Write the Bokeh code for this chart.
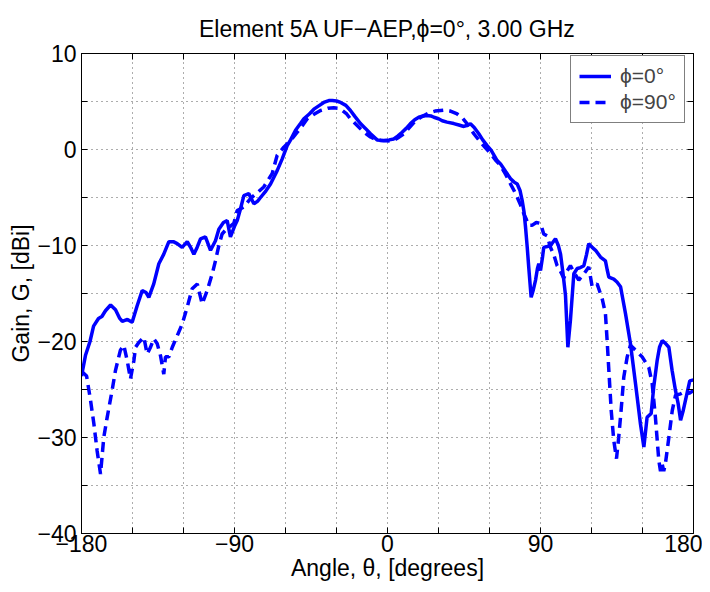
from bokeh.plotting import figure
from bokeh.models import FixedTicker, LinearAxis, Legend, LegendItem, Range1d
from bokeh.embed import file_html
from bokeh.resources import INLINE

FONT = "Liberation Sans"

theta_phi0 = [-180, -177.6, -175, -172.9, -170, -168, -165.9, -162.9, -160, -157.5, -156, -153, -150.2,
              -147.3, -144.3, -142, -140.4, -137.5, -134.5, -131.6, -128.6, -126, -123.7, -120.8, -117.8,
              -115.5, -113.9, -112, -110, -107.1, -104.1, -101.2, -99.2, -96.5, -94.3, -92.4, -90, -88.4,
              -86.5, -84.5, -81.6, -78.6, -76.5, -74.7, -71.5, -68.8, -64.9, -62, -59, -57, -54.1, -51.2,
              -49.2, -46, -43.3, -40, -37.5, -34.5, -32.5, -30, -27.6, -24.5, -21.8, -19, -15.9, -13, -10,
              -6.1, -2.2, 1, 3.7, 6, 8.6, 11, 13.5, 16, 18.4, 21, 23.3, 25.5, 27.3, 30, 32.2, 35, 39, 42,
              44.9, 46.5, 48.8, 51, 53.7, 56, 58.6, 61, 64.5, 66.5, 69.5, 72.4, 74.5, 76.3, 78, 79.2, 80.3,
              81.2, 82.2, 83.1, 84.5, 85.8, 87.1, 88.2, 89, 90, 91.2, 91.9, 94, 95.9, 98.8, 100.5, 101.8,
              103.3, 104.7, 106.1, 107.6, 109.6, 111.6, 113.5, 115.5, 117, 118.4, 120.4, 122.4, 125.3,
              128.2, 129.2, 130.2, 133.1, 135, 137.1, 140, 142.9, 145.9, 148.8, 150.8, 152.7, 155.1, 156.6,
              158.6, 160, 161.6, 163.5, 165.5, 167.4, 169.4, 171, 172.4, 173.8, 175.3, 177.8, 180]
gain_phi0 = [-23.6, -21.4, -20.0, -18.4, -17.6, -17.4, -16.8, -16.2, -16.7, -17.6, -17.9, -17.7, -18.0,
             -16.3, -14.7, -14.9, -15.4, -14.0, -11.9, -10.9, -9.6, -9.6, -9.8, -10.2, -9.6,
             -10.3, -10.9, -10.2, -9.3, -9.1, -10.5, -9.5, -8.3, -7.6, -7.4, -9.1, -8.0, -7.4,
             -6.2, -4.8, -4.6, -5.65, -5.4, -5.0, -4.3, -3.6, -2.2, -1.0, 0.4, 1.0, 2.0, 2.7,
             3.2, 3.7, 4.2, 4.6, 4.9, 5.1, 5.1, 5.05, 4.9, 4.6, 4.06, 3.4, 2.7, 2.2, 1.64,
             1.0, 0.94, 1.0, 1.1, 1.4, 1.8, 2.2, 2.7, 3.1, 3.36, 3.5, 3.55, 3.5, 3.36, 3.2, 3.0, 2.85, 2.7, 2.55,
             2.4, 2.5, 2.68, 2.3, 1.64, 1.0, 0.4, -0.1, -1.15, -1.5, -2.3, -3.05, -3.4, -3.6, -4.3, -5.3, -6.5,
             -8.1, -10.2, -12.3, -15.4, -14.6, -13.6, -12.4, -11.9, -12.6, -11.2, -10.2, -10.1, -10.0, -9.3, -10.0, -10.9,
             -13.0, -15.2, -20.6, -17.8, -12.95, -12.4, -12.3, -12.1, -11.0, -9.8, -10.2, -10.5, -11.2,
             -11.6, -12.5, -13.3, -13.5, -13.8, -14.3, -17.1, -20.2, -24.4, -28.6, -31.0, -27.9, -27.5, -24.75,
             -22.0, -20.6, -19.9, -20.2, -20.6, -23.0, -25.1, -26.5, -28.2, -27.3, -26.1, -24.1, -24.0]

theta_phi90 = [-180, -177, -174.7, -172.7, -170.8, -168.8, -166.9, -164.9, -162, -160, -157.1, -155.1, -153.1,
               -151.2, -149.2, -148.2, -146.3, -143.3, -141.4, -139.4, -137.5, -135.5, -133.5, -131.6, -130.6,
               -128.6, -126.6, -123.7, -120.8, -117.8, -114.9, -111.9, -109, -106.1, -103.1, -101.2, -99.2,
               -97.3, -95.3, -92.5, -90.4, -88.4, -84.5, -80.6, -76.5, -72.8, -67.8, -64.9, -61, -57, -53.1,
               -50, -47.2, -43, -39.4, -35, -31.6, -29, -26.6, -24, -21.8, -19, -15.9, -13, -10, -7, -4.1,
               -1, 2.7, 6, 9.6, 13, 16.5, 20, 24.3, 28, 33.1, 37, 41, 44, 46.9, 50.8, 54.7, 57.5, 60.6, 63.5,
               66.5, 69.5, 72.4, 74.5, 76.3, 78.3, 80.2, 81.7, 83.1, 85, 87.5, 90, 91.9, 93.9, 95.9, 97.9,
               99.8, 101.8, 103.7, 105.5, 107.6, 110, 112.5, 115.5, 118.4, 120.4, 123.3, 126.3, 128.2, 129.2,
               130.2, 131.6, 133.1, 134.7, 136.0, 137.4, 139.0, 141.0, 142.9, 145.9, 149.8, 153.7, 155.7,
               157.6, 159.6, 160.6, 161.6, 162.5, 163.5, 165.5, 167.5, 169.4, 172.4, 175, 177.5, 180]
gain_phi90 = [-23.1, -23.6, -26.1, -28.6, -31.4, -33.8, -30.0, -27.9, -25.1, -23.0, -20.9, -20.4, -22.0,
              -23.9, -22.0, -20.6, -20.1, -19.55, -21.3, -20.6, -19.7, -20.2, -21.5, -23.4, -21.6,
              -21.6, -20.6, -19.4, -18.2, -16.4, -14.5, -14.0, -16.1, -14.7, -12.95, -11.6, -10.0,
              -8.8, -8.4, -8.0, -7.7, -6.35, -6.0, -5.1, -4.5, -3.9, -2.5, -0.6, 0.24, 0.94, 1.8,
              2.5, 3.2, 3.7, 4.06, 4.3, 4.34, 4.3, 4.06, 3.7, 3.2, 2.7, 2.16, 1.7, 1.3, 1.05, 0.94,
              0.9, 0.87, 1.2, 1.64, 2.3, 3.0, 3.4, 3.8, 4.0, 4.1, 4.0, 3.7, 3.3, 2.68, 1.64, 0.77, 0.2, -0.4, -1.1,
              -1.67, -2.6, -3.6, -4.3, -4.97, -5.8, -6.7, -7.3, -7.9, -7.9, -7.6, -7.7, -8.8, -9.0, -10.2, -11.0,
              -12.1, -12.7, -13.4, -12.7, -12.1, -12.9, -13.6, -12.95, -12.25, -14.3, -14.0, -15.55, -17.1, -19.9,
              -23.0, -27.2, -30.3, -32.2, -30.0, -27.2, -23.7, -21.6, -20.4, -20.9, -21.6, -22.7, -24.4,
              -27.9, -32.4, -33.5, -32.8, -33.5, -32.7, -30.0, -27.2, -25.6, -25.45, -25.2, -25.4, -25.1]

x_ticks = list(range(-180, 181, 30))
x_tick_labels = {-180: "\u2212180", -90: "\u221290", 0: "0", 90: "90", 180: "180"}
y_ticks = list(range(-40, 11, 5))
y_tick_labels = {-40: "\u221240", -30: "\u221230", -20: "\u221220", -10: "\u221210", 0: "0", 10: "10"}

title_text = "Element 5A UF\u2212AEP,\u03d5=0\u00b0, 3.00 GHz"
x_label = "Angle, \u03b8, [degrees]"
y_label = "Gain, G, [dBi]"
legend_labels = ["\u03d5=0\u00b0", "\u03d5=90\u00b0"]

p = figure(width=702, height=584, x_range=Range1d(-180, 180), y_range=Range1d(-40, 10),
           output_backend="svg", toolbar_location=None,
           min_border_left=81, min_border_right=9, min_border_top=53, min_border_bottom=51,
           title=title_text)
p.title.text_font = FONT
p.title.text_font_size = "23px"
p.title.text_font_style = "normal"
p.title.align = "center"
p.title.text_color = "black"
p.title.standoff = 24

p.outline_line_color = "black"
p.outline_line_width = 1
p.background_fill_color = "white"
p.border_fill_color = "white"


def style_axis(ax, ticks, labels, show_labels=True):
    ax.ticker = FixedTicker(ticks=ticks)
    full = {t: labels.get(t, "") for t in ticks}
    ax.major_label_overrides = full
    ax.major_tick_in = 6
    ax.major_tick_out = 0
    ax.minor_tick_line_color = None
    ax.axis_line_color = "black"
    ax.major_tick_line_color = "black"
    ax.major_label_text_font = FONT
    ax.major_label_text_font_size = "23px" if show_labels else "0px"
    ax.major_label_text_color = "black"
    ax.major_label_standoff = 0


style_axis(p.xaxis[0], x_ticks, x_tick_labels)
style_axis(p.yaxis[0], y_ticks, y_tick_labels)
p.xaxis[0].major_label_standoff = 1
p.yaxis[0].major_label_standoff = 5
p.xaxis[0].axis_label = x_label
p.yaxis[0].axis_label = y_label
for ax in (p.xaxis[0], p.yaxis[0]):
    ax.axis_label_text_font = FONT
    ax.axis_label_text_font_size = "23px"
    ax.axis_label_text_font_style = "normal"
    ax.axis_label_text_color = "black"
    ax.axis_label_standoff = 0

top_ax = LinearAxis()
style_axis(top_ax, x_ticks, {}, show_labels=False)
p.add_layout(top_ax, "above")
right_ax = LinearAxis()
style_axis(right_ax, y_ticks, {}, show_labels=False)
p.add_layout(right_ax, "right")

for g in (p.xgrid[0], p.ygrid[0]):
    g.grid_line_color = "#333333"
    g.grid_line_dash = "1 4"
    g.grid_line_width = 1
    g.grid_line_alpha = 0.8

r0 = p.line(theta_phi0, gain_phi0, line_color="#0000ff", line_width=3.5)
r1 = p.line(theta_phi90, gain_phi90, line_color="#0000ff", line_width=3.5, line_dash="10 6")

legend = Legend(items=[LegendItem(label=legend_labels[0], renderers=[r0]),
                       LegendItem(label=legend_labels[1], renderers=[r1])],
                location=(489, 410))
legend.border_line_color = "black"
legend.border_line_width = 1
legend.background_fill_color = "white"
legend.background_fill_alpha = 1
legend.label_text_font = FONT
legend.label_text_font_size = "21px"
legend.glyph_width = 32
legend.glyph_height = 20
legend.label_standoff = 9
legend.padding = 8
legend.spacing = 2
legend.margin = 0
p.add_layout(legend)

open("out.html", "w").write(file_html(p, INLINE))
